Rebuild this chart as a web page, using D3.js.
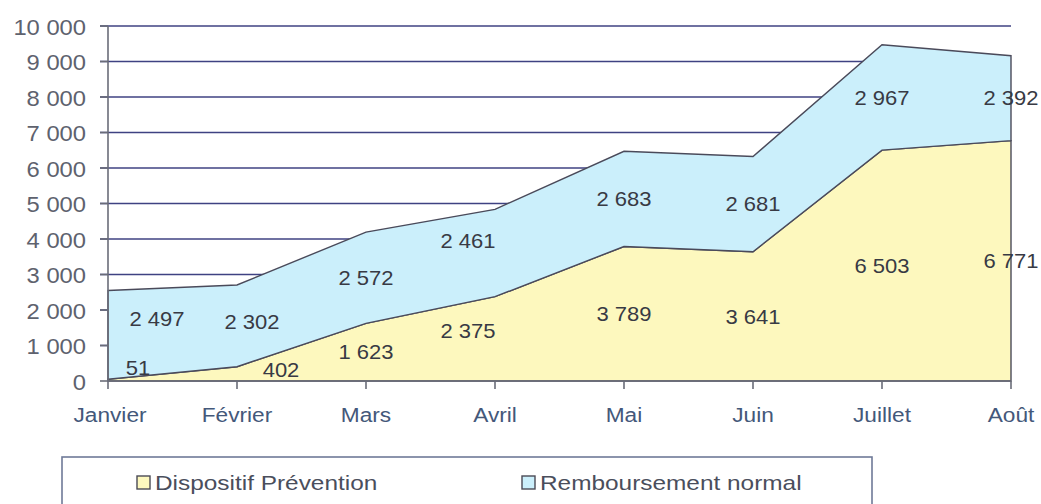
<!DOCTYPE html>
<html lang="fr">
<head>
<meta charset="utf-8">
<title>Dispositif Prévention / Remboursement normal</title>
<script src="https://d3js.org/d3.v7.min.js"></script>
<style>
  body { margin: 0; background: #fff; }
  svg { display: block; }
  text { font-family: "Liberation Sans", Arial, sans-serif; }
</style>
</head>
<body>
<svg id="chart" width="1041" height="504"></svg>
<script>
// donnees
const mois = ["Janvier", "Février", "Mars", "Avril", "Mai", "Juin", "Juillet", "Août"];
const prevention = [51, 402, 1623, 2375, 3789, 3641, 6503, 6771];
const remboursement = [2497, 2302, 2572, 2461, 2683, 2681, 2967, 2392];
const series = ["Dispositif Prévention", "Remboursement normal"];
const yTicks = [0, 1000, 2000, 3000, 4000, 5000, 6000, 7000, 8000, 9000, 10000];

const couleurs = ["#fdf8be", "#cbeffb"];

// petits decalages des etiquettes (comme dans l'original)
const decalage = {
  "Janvier": [[30, -12], [49, -16]],
  "Février": [[44, -4], [15, -4]],
  "Avril":   [[-27, -8], [-27, -12]]
};

const svg = d3.select("#chart");
const fr = d3.formatLocale({ decimal: ",", thousands: " ", grouping: [3], currency: ["", " €"] });
const fmt = fr.format(",d");

const x = d3.scalePoint().domain(mois).range([108, 1011]);
const y = d3.scaleLinear().domain([0, 10000]).range([381, 26]);

const rows = mois.map((m, i) => ({ mois: m, p: prevention[i], r: remboursement[i] }));
const stacked = d3.stack().keys(["p", "r"])(rows);

// texte etire horizontalement (le scan original est elargi)
function stretchText(g, tx, ty, txt, size, sx, anchor, fill) {
  return g.append("text")
    .attr("transform", `translate(${tx},${ty}) scale(${sx},1)`)
    .attr("text-anchor", anchor)
    .attr("dominant-baseline", "central")
    .attr("font-size", size)
    .attr("fill", fill)
    .text(txt);
}

// quadrillage
svg.append("g").selectAll("line")
  .data(yTicks.filter(d => d > 0))
  .join("line")
  .attr("x1", 100).attr("x2", x("Août"))
  .attr("y1", d => y(d)).attr("y2", d => y(d))
  .attr("stroke", "#3f4282").attr("stroke-width", 1.4);

// aires empilees
const area = d3.area()
  .x(d => x(d.data.mois))
  .y0(d => y(d[0]))
  .y1(d => y(d[1]));

svg.append("g").selectAll("path")
  .data(stacked)
  .join("path")
  .attr("d", area)
  .attr("fill", (d, i) => couleurs[i])
  .attr("stroke", "#4a4a5a")
  .attr("stroke-width", 1.4);

// axes
const axes = svg.append("g").attr("stroke", "#6a6c78").attr("stroke-width", 1.6);
axes.append("line").attr("x1", x("Janvier")).attr("x2", x("Janvier")).attr("y1", y(10000)).attr("y2", y(0));
axes.append("line").attr("x1", x("Janvier")).attr("x2", x("Août")).attr("y1", y(0)).attr("y2", y(0));
axes.selectAll(".yt").data(yTicks).join("line")
  .attr("x1", 100).attr("x2", x("Janvier")).attr("y1", d => y(d)).attr("y2", d => y(d));
axes.selectAll(".xt").data(mois).join("line")
  .attr("x1", d => x(d)).attr("x2", d => x(d)).attr("y1", y(0)).attr("y2", y(0) + 8);

// etiquettes des axes
const lbl = svg.append("g");
yTicks.forEach(t => stretchText(lbl, 86, y(t) + 1, fmt(t), 22, 1.08, "end", "#5e626e"));
mois.forEach(m => stretchText(lbl, x(m) + (m === "Janvier" ? 2 : 0), 415, m, 21, 1.08, "middle", "#44587a"));

// etiquettes de donnees
const dl = svg.append("g");
stacked.forEach((s, k) => {
  s.forEach(d => {
    const m = d.data.mois;
    const off = decalage[m] ? decalage[m][k] : [0, 0];
    const cy = (y(d[0]) + y(d[1])) / 2;
    stretchText(dl, x(m) + off[0], cy + off[1], fmt(d[1] - d[0]), 20, 1.1, "middle", "#383a44");
  });
});

// legende
const leg = svg.append("g");
leg.append("rect")
  .attr("x", 62).attr("y", 457).attr("width", 810).attr("height", 60)
  .attr("fill", "#fff").attr("stroke", "#6f7a98").attr("stroke-width", 1.6);
const legX = [137, 522];
series.forEach((s, i) => {
  leg.append("rect")
    .attr("x", legX[i]).attr("y", 476).attr("width", 13).attr("height", 13)
    .attr("fill", couleurs[i]).attr("stroke", "#4a4a55").attr("stroke-width", 1.4);
  stretchText(leg, legX[i] + 18, 483, s, 20, 1.22, "start", "#4a4e5c");
});
</script>
</body>
</html>
